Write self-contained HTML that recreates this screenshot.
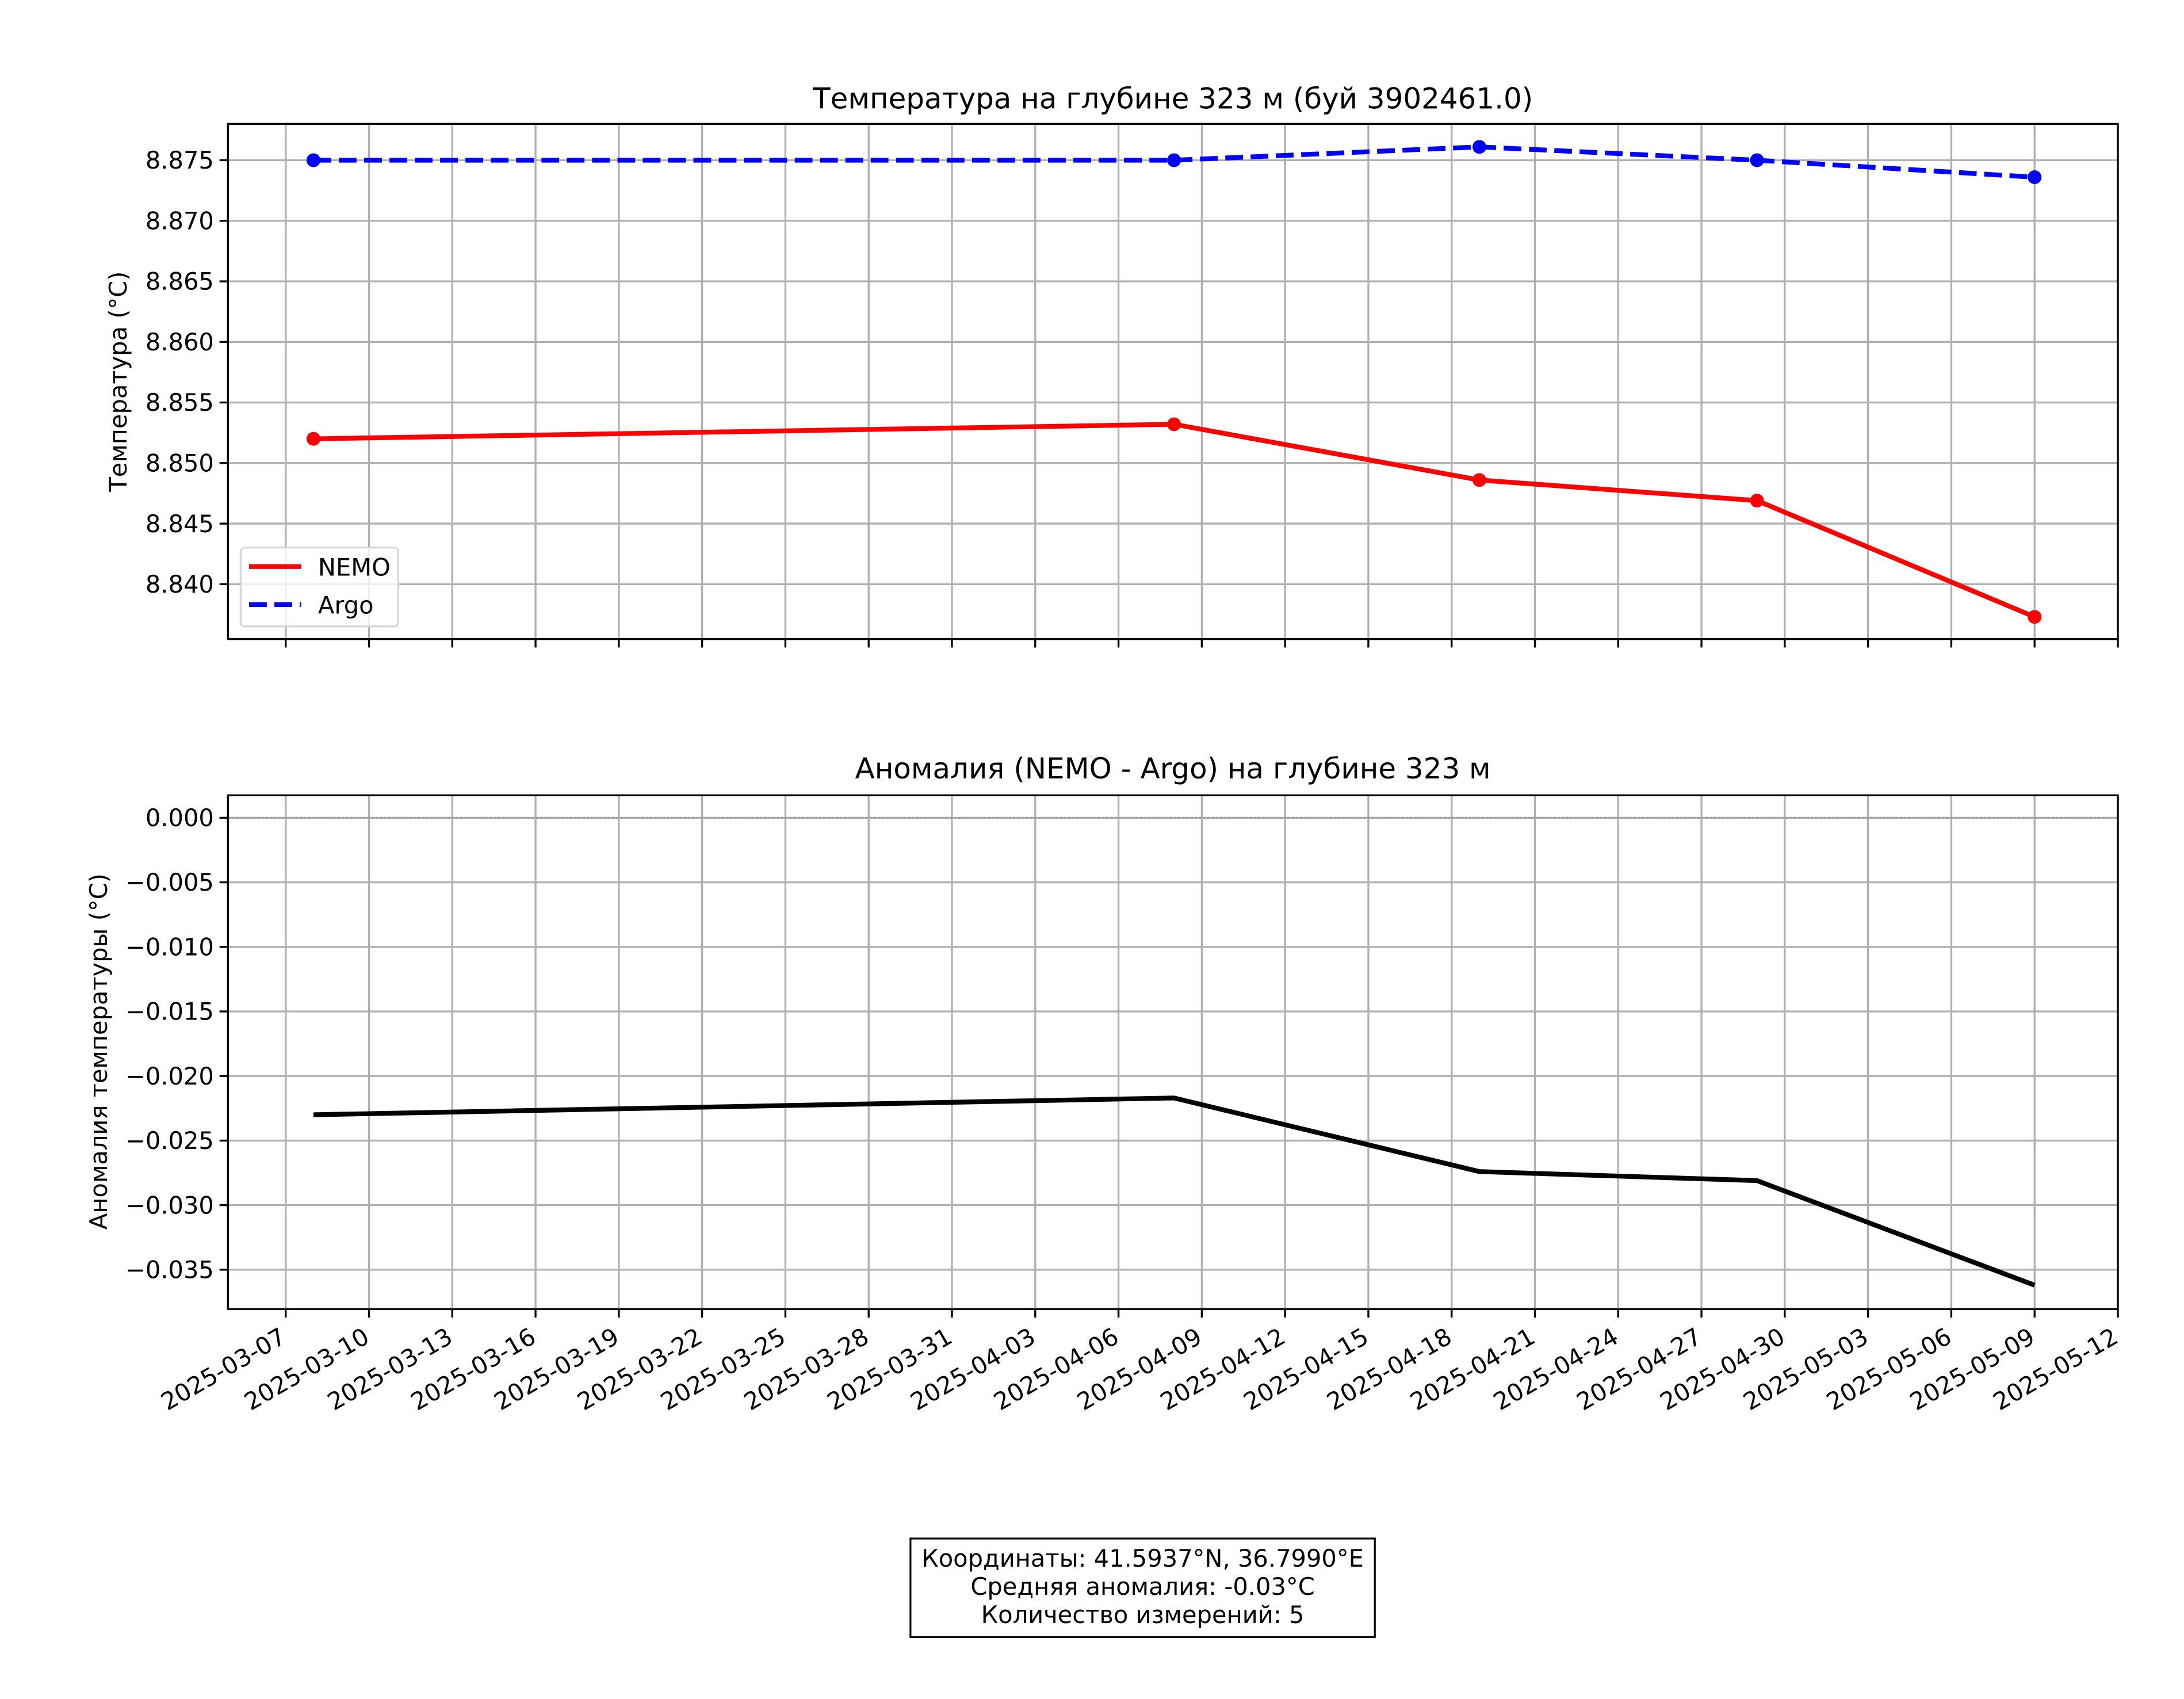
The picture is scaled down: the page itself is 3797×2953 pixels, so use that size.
<!DOCTYPE html>
<html><head><meta charset="utf-8"><style>html,body{margin:0;padding:0;background:#fff}svg{display:block}text{font-family:"DejaVu Sans","Liberation Sans",sans-serif;fill:#000}</style></head>
<body>
<svg id="fig" width="3797" height="2953" viewBox="0 0 1552 1207" xmlns="http://www.w3.org/2000/svg">
<rect x="0" y="0" width="1552" height="1207" fill="#fff"/>
<g id="top"></g>
<g id="bot"></g>
<g>
<rect x="647" y="1093" width="330" height="70" fill="#fff" stroke="#000" stroke-width="1.3"/>
<text x="812" y="1113" font-size="17" text-anchor="middle">Координаты: 41.5937°N, 36.7990°E</text>
<text x="812" y="1133" font-size="17" text-anchor="middle">Средняя аномалия: -0.03°C</text>
<text x="812" y="1153" font-size="17" text-anchor="middle">Количество измерений: 5</text>
</g>
</svg>
<script>
const dayOffsets = [1, 32, 43, 53, 63];
const nemoValues = [8.8520, 8.8532, 8.8486, 8.8469, 8.8373];
const argoValues = [8.8750, 8.8750, 8.8761, 8.8750, 8.8736];
const anomalyValues = [-0.0230, -0.0217, -0.0274, -0.0281, -0.0362];
const xTickLabels = ["2025-03-07","2025-03-10","2025-03-13","2025-03-16","2025-03-19","2025-03-22","2025-03-25","2025-03-28","2025-03-31","2025-04-03","2025-04-06","2025-04-09","2025-04-12","2025-04-15","2025-04-18","2025-04-21","2025-04-24","2025-04-27","2025-04-30","2025-05-03","2025-05-06","2025-05-09","2025-05-12"];
const topYTicks = [8.840, 8.845, 8.850, 8.855, 8.860, 8.865, 8.870, 8.875];
const botYTicks = [-0.035, -0.030, -0.025, -0.020, -0.015, -0.010, -0.005, 0.000];

const NS = "http://www.w3.org/2000/svg";
const L = 162, R = 1505;
const xMin = -2.08, xMax = 66.0;
function xs(d){ return L + (d - xMin) / (xMax - xMin) * (R - L); }
function mk(tag, attrs, parent){ const e = document.createElementNS(NS, tag); for (const k in attrs) e.setAttribute(k, attrs[k]); parent.appendChild(e); return e; }

function panel(g, top, bot, yMin, yMax, ticks, fmt, showX){
  const ys = v => bot - (v - yMin) / (yMax - yMin) * (bot - top);
  // grid
  xTickLabels.forEach((lab, i) => {
    const x = xs(i * 3);
    const gl = mk('line', {x1:x, x2:x, y1:top, y2:bot, stroke:'#b0b0b0', 'stroke-width':1.36}, g);
    
    
    const tk = mk('line', {x1:x, x2:x, y1:bot, y2:bot+6, stroke:'#000', 'stroke-width':1.36}, g);
    
    
    if (showX){
      const t = mk('text', {x:x-5, y:bot+12, 'font-size':17, 'text-anchor':'end', 'dominant-baseline':'hanging', transform:`rotate(-30 ${x-5} ${bot+12})`}, g);
      t.textContent = lab;
      
      
    }
  });
  ticks.forEach(v => {
    const y = ys(v);
    const gl = mk('line', {x1:L, x2:R, y1:y, y2:y, stroke:'#b0b0b0', 'stroke-width':1.36}, g);
    
    
    const tk = mk('line', {x1:L-6, x2:L, y1:y, y2:y, stroke:'#000', 'stroke-width':1.36}, g);
    
    
    const t = mk('text', {x:L-10, y:y+6, 'font-size':17, 'text-anchor':'end'}, g);
    t.textContent = fmt(v);
    
    
  });
  return ys;
}
function series(g, vals, ys, color, dash, markers, name){
  const pts = dayOffsets.map((d, i) => xs(d) + ',' + ys(vals[i])).join(' ');
  const pl = mk('polyline', {points:pts, fill:'none', stroke:color, 'stroke-width':3.4, 'stroke-dasharray':dash || 'none', 'stroke-linejoin':'round'}, g);
  
  
  if (markers) dayOffsets.forEach((d, i) => {
    const c = mk('circle', {cx:xs(d), cy:ys(vals[i]), r:4.9, fill:color}, g);
    
    
  });
}

const gt = document.getElementById('top');
const ysT = panel(gt, 88, 454, 8.83547, 8.8780, topYTicks, v => v.toFixed(3), false);
series(gt, nemoValues, ysT, '#ff0000', null, true, 'nemo');
series(gt, argoValues, ysT, '#0000ff', '12.6,5.4', true, 'argo');
mk('rect', {x:L, y:88, width:R-L, height:454-88, fill:'none', stroke:'#000', 'stroke-width':1.36}, gt);
let t = mk('text', {x:833.5, y:77, 'font-size':20.4, 'text-anchor':'middle'}, gt); t.textContent = 'Температура на глубине 323 м (буй 3902461.0)';

t = mk('text', {x:90, y:271, 'font-size':17, 'text-anchor':'middle', transform:'rotate(-90 90 271)'}, gt); t.textContent = 'Температура (°C)';

// legend
const lg = mk('g', {}, gt);


mk('rect', {x:171, y:389, width:112, height:56, rx:3, fill:'#fff', 'fill-opacity':0.8, stroke:'#d5d5d5', 'stroke-width':1.3}, lg);
mk('line', {x1:177, x2:214, y1:402.5, y2:402.5, stroke:'#ff0000', 'stroke-width':3.4}, lg);
mk('line', {x1:177, x2:214, y1:429.5, y2:429.5, stroke:'#0000ff', 'stroke-width':3.4, 'stroke-dasharray':'12.6,5.4'}, lg);
t = mk('text', {x:226, y:409, 'font-size':17}, lg); t.textContent = 'NEMO';

t = mk('text', {x:226, y:436, 'font-size':17}, lg); t.textContent = 'Argo';


const gb = document.getElementById('bot');
const ysB = panel(gb, 565, 930, -0.03805, 0.00174, botYTicks, v => (v < 0 ? '\u2212' : '') + Math.abs(v).toFixed(3), true);
const zl = mk('line', {x1:L, x2:R, y1:ysB(0), y2:ysB(0), stroke:'#999', 'stroke-width':1.1, 'stroke-dasharray':'1.5,1.5'}, gb);

series(gb, anomalyValues, ysB, '#000000', null, false, 'anomaly');
mk('rect', {x:L, y:565, width:R-L, height:930-565, fill:'none', stroke:'#000', 'stroke-width':1.36}, gb);
t = mk('text', {x:833.5, y:553, 'font-size':20.4, 'text-anchor':'middle'}, gb); t.textContent = 'Аномалия (NEMO - Argo) на глубине 323 м';

t = mk('text', {x:76, y:747, 'font-size':17, 'text-anchor':'middle', transform:'rotate(-90 76 747)'}, gb); t.textContent = 'Аномалия температуры (°C)';

</script>
</body></html>
